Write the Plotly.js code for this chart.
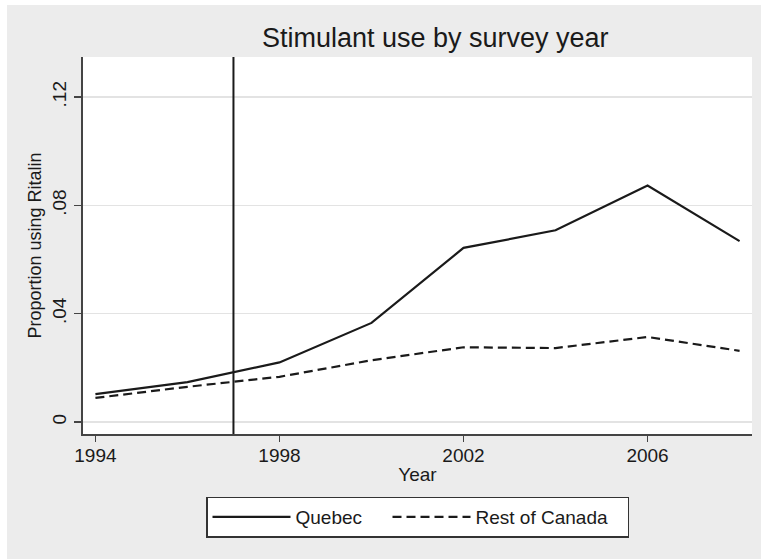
<!DOCTYPE html>
<html>
<head>
<meta charset="utf-8">
<script src="https://cdn.plot.ly/plotly-3.0.1.min.js"></script>
<style>
  html, body { margin: 0; padding: 0; background: #ffffff; }
  #chart { position: absolute; left: 7px; top: 5px; width: 754px; height: 554px; }
</style>
</head>
<body>
<div id="chart"></div>
<script>
// ---- data ----
const years = [1994, 1996, 1998, 2000, 2002, 2004, 2006, 2008];
const quebec = [0.0103, 0.0147, 0.0220, 0.0366, 0.0643, 0.0708, 0.0873, 0.0668];
const restOfCanada = [0.0089, 0.0130, 0.0167, 0.0228, 0.0276, 0.0273, 0.0314, 0.0263];
const seriesNames = ["Quebec", "Rest of Canada"];
const referenceYear = 1997;
const xTickVals = [1994, 1998, 2002, 2006];
const xTickText = ["1994", "1998", "2002", "2006"];
const yTickVals = [0, 0.04, 0.08, 0.12];
const yTickText = ["0", ".04", ".08", ".12"];

const FONT = "Liberation Sans, Arial, sans-serif";
const INK = "#1a1a1a";

const traces = [
  {
    x: years, y: quebec, name: seriesNames[0], type: "scatter", mode: "lines",
    line: { color: INK, width: 2.2 },
    legendwidth: 87
  },
  {
    x: years, y: restOfCanada, name: seriesNames[1], type: "scatter", mode: "lines",
    line: { color: INK, width: 2.2, dash: "9px,5px" },
    legendwidth: 147
  }
];

const layout = {
  width: 754, height: 554,
  paper_bgcolor: "#ececec",
  plot_bgcolor: "#ffffff",
  margin: { l: 76, r: 9, t: 52, b: 125 },
  font: { family: FONT, color: INK, size: 19 },
  title: {
    text: "Stimulant use by survey year",
    font: { family: FONT, size: 27, color: INK },
    xref: "container", x: 0.568, xanchor: "center",
    yref: "container", y: 1 - 33 / 554, yanchor: "middle"
  },
  xaxis: {
    range: [1993.73, 2008.27],
    tickvals: xTickVals, ticktext: xTickText,
    ticks: "outside", ticklen: 6, tickwidth: 1.5, tickcolor: "#444",
    ticklabelstandoff: -3,
    showline: true, linecolor: "#444", linewidth: 2,
    showgrid: false, zeroline: false,
    tickfont: { size: 19, color: INK },
    title: { text: "Year", font: { size: 19, color: INK }, standoff: 3 }
  },
  yaxis: {
    range: [-0.00443, 0.1348],
    tickvals: yTickVals, ticktext: yTickText,
    tickangle: -90,
    ticks: "outside", ticklen: 7, tickwidth: 1.5, tickcolor: "#444",
    showline: true, linecolor: "#444", linewidth: 2,
    showgrid: true, gridcolor: "#e3e3e3", gridwidth: 1.5,
    zeroline: false,
    tickfont: { size: 19, color: INK },
    title: { text: "Proportion using Ritalin", font: { size: 18, color: INK }, standoff: 3 }
  },
  shapes: [
    {
      type: "line", xref: "x", yref: "paper",
      x0: referenceYear, x1: referenceYear, y0: 0, y1: 1,
      line: { color: INK, width: 2 }
    }
  ],
  showlegend: true,
  legend: {
    orientation: "h",
    x: 0.5, xanchor: "center",
    y: -0.166, yanchor: "top",
    bgcolor: "#ffffff",
    bordercolor: "#333", borderwidth: 1.5,
    itemwidth: 78,
    entrywidthmode: "pixels",
    font: { size: 19, color: INK },
    traceorder: "normal"
  }
};

Plotly.newPlot("chart", traces, layout, { displayModeBar: false, staticPlot: true });
</script>
</body>
</html>
